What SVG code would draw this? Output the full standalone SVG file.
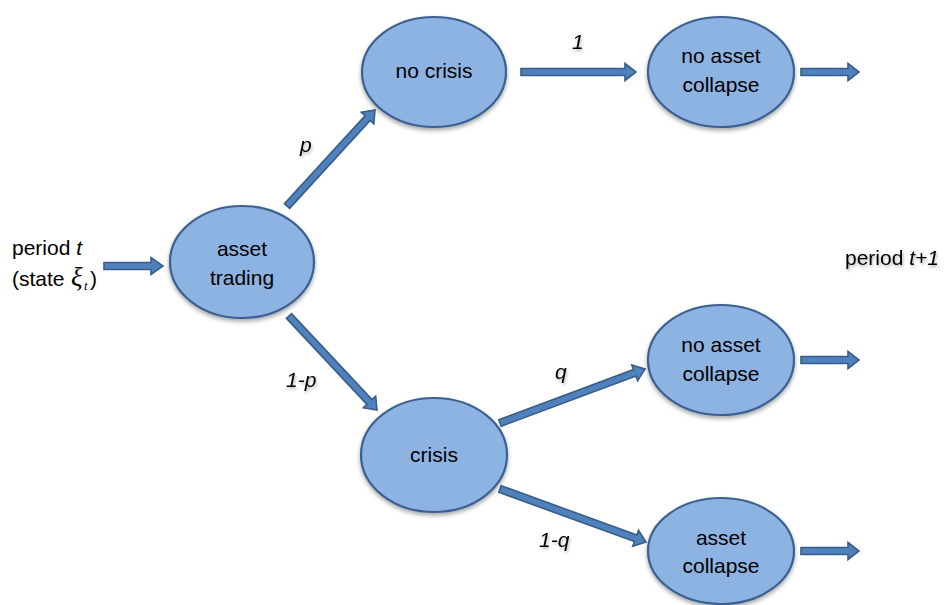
<svg xmlns="http://www.w3.org/2000/svg" width="945" height="605" viewBox="0 0 945 605">
  <defs>
    <filter id="sh" x="-20%" y="-20%" width="140%" height="150%">
      <feDropShadow dx="0" dy="2.5" stdDeviation="2" flood-color="#000" flood-opacity="0.35"/>
    </filter>
    <filter id="tsh" x="-20%" y="-40%" width="140%" height="180%">
      <feDropShadow dx="1" dy="2" stdDeviation="1.5" flood-color="#000" flood-opacity="0.3"/>
    </filter>
  </defs>
  <style>
    .node ellipse { fill: #8DB3E2; stroke: #3A6191; stroke-width: 2.2; filter: url(#sh); }
    .node text { font-family: "Liberation Sans", Arial, sans-serif; font-size: 21px; fill: #000; text-anchor: middle; }
    .arrow { fill: #4F81BD; stroke: #385D8A; stroke-width: 1.6; stroke-linejoin: miter; }
    .lbl { font-family: "Liberation Sans", Arial, sans-serif; font-size: 21px; font-style: italic; fill: #000; filter: url(#tsh); }
    .plain { font-family: "Liberation Sans", Arial, sans-serif; font-size: 21px; fill: #000; }
    .math { font-family: "Liberation Serif", "DejaVu Serif", serif; font-style: italic; }
  </style>
  <rect width="945" height="605" fill="#fff"/>

  <g id="connectors">
    <polygon class="arrow" points="104,262.5 151,262.5 151,257.5 163,266 151,274.5 151,269.5 104,269.5"/>
    <polygon class="arrow" points="289.58,208.37 370.14,120.48 373.82,123.86 375,110 361.30,112.36 364.98,115.74 284.42,203.63"/>
    <polygon class="arrow" points="521,68.5 625,68.5 625,63.5 636,72 625,80.5 625,75.5 521,75.5"/>
    <polygon class="arrow" points="801,68.5 848,68.5 848,63.5 859,72 848,80.5 848,75.5 801,75.5"/>
    <polygon class="arrow" points="286.44,318.39 366.92,404.36 363.27,407.78 377,410 375.69,396.16 372.04,399.58 291.56,313.61"/>
    <polygon class="arrow" points="501.22,426.28 635.91,376.12 637.66,380.80 645,369 631.72,364.88 633.47,369.56 498.78,419.72"/>
    <polygon class="arrow" points="498.81,492.29 634.47,541.54 632.76,546.24 646,542 638.56,530.26 636.85,534.96 501.19,485.71"/>
    <polygon class="arrow" points="801,356.5 848,356.5 848,351.5 859,360 848,368.5 848,363.5 801,363.5"/>
    <polygon class="arrow" points="801,547.5 848,547.5 848,542.5 859,551 848,559.5 848,554.5 801,554.5"/>
  </g>

  <g id="start">
    <text class="plain" x="12" y="255">period <tspan font-style="italic">t</tspan></text>
    <text class="plain" x="12" y="286">(state <tspan class="math" x="71" font-size="27">ξ</tspan><tspan class="math" x="84" dy="4" font-size="13">t</tspan><tspan x="90" dy="-4">)</tspan></text>
  </g>

  <g id="asset-trading" class="node">
    <ellipse cx="242" cy="262" rx="72" ry="56"/>
    <text x="242" y="256">asset</text>
    <text x="242" y="285">trading</text>
  </g>

  <g id="no-crisis" class="node">
    <ellipse cx="434" cy="72" rx="72" ry="55"/>
    <text x="434" y="78">no crisis</text>
  </g>

  <g id="crisis" class="node">
    <ellipse cx="434" cy="455" rx="73" ry="57"/>
    <text x="434" y="462">crisis</text>
  </g>

  <g id="no-asset-collapse-1" class="node">
    <ellipse cx="721" cy="72" rx="73" ry="55"/>
    <text x="721" y="63">no asset</text>
    <text x="721" y="92">collapse</text>
  </g>

  <g id="no-asset-collapse-2" class="node">
    <ellipse cx="721" cy="360" rx="73" ry="55"/>
    <text x="721" y="352">no asset</text>
    <text x="721" y="381">collapse</text>
  </g>

  <g id="asset-collapse" class="node">
    <ellipse cx="721" cy="551" rx="73" ry="53"/>
    <text x="721" y="545">asset</text>
    <text x="721" y="573">collapse</text>
  </g>

  <g id="labels">
    <text class="lbl" x="300" y="152">p</text>
    <text class="lbl" x="572" y="49">1</text>
    <text class="lbl" x="286" y="387">1-p</text>
    <text class="lbl" x="555" y="379">q</text>
    <text class="lbl" x="539" y="547">1-q</text>
  </g>

  <g id="end">
    <text class="plain" x="845" y="265" filter="url(#tsh)">period <tspan font-style="italic">t+1</tspan></text>
  </g>
</svg>
